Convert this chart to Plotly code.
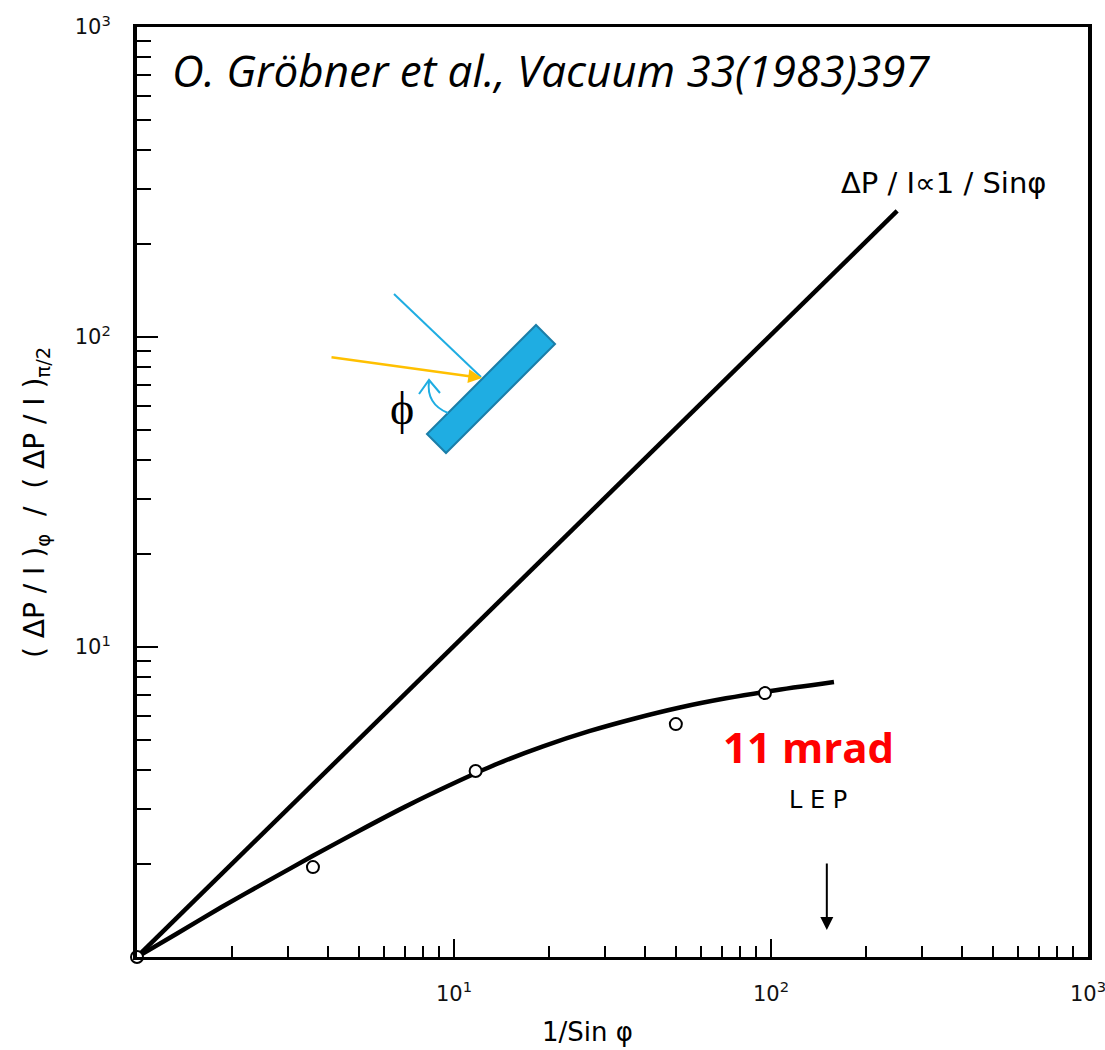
import math
import plotly.graph_objects as go

# ---------------- data ----------------
# straight reference line  dP/I ∝ 1/sin(phi)
line_x = [1, 250]
line_y = [1, 255]

curve_x = [1, 1.33, 1.85, 2.59, 3.59, 5.01, 7.0, 9.79, 13.7, 19.1, 26.7, 37.2, 51.6, 72.1, 101, 158]
curve_y = [1, 1.186, 1.45, 1.76, 2.12, 2.55, 3.05, 3.60, 4.20, 4.78, 5.35, 5.88, 6.38, 6.83, 7.23, 7.71]

# measured points (open circles)
pts_x = [1, 3.59, 11.7, 50.1, 95.7]
pts_y = [1, 1.95, 3.98, 5.64, 7.10]

major_vals = [1, 10, 100, 1000]
x_tick_text = ["", "10<sup>1</sup>", "10<sup>2</sup>", "10<sup>3</sup>"]
y_tick_text = ["", "10<sup>1</sup>", "10<sup>2</sup>", "10<sup>3</sup>"]
minor_vals = [m * 10 ** k for k in range(3) for m in range(2, 10)]

lep_x = 150  # LEP position (11 mrad)

# ---------------- figure ----------------
L, R, T, B = 137, 1088, 27, 957
W, H = 1105, 1050


def px(x):
    return (x - L) / (R - L)


def py(y):
    return (B - y) / (B - T)


fig = go.Figure()
fig.add_trace(go.Scatter(x=line_x, y=line_y, mode="lines",
                         line=dict(color="black", width=4.5),
                         showlegend=False, hoverinfo="skip"))
fig.add_trace(go.Scatter(x=curve_x, y=curve_y, mode="lines",
                         line=dict(color="black", width=4.5, shape="spline", smoothing=0.6),
                         showlegend=False, hoverinfo="skip"))
fig.add_trace(go.Scatter(x=pts_x, y=pts_y, mode="markers", cliponaxis=False,
                         marker=dict(symbol="circle", size=12, color="white",
                                     line=dict(color="black", width=2)),
                         showlegend=False))

tickfont = dict(family="DejaVu Sans", size=21, color="#111")

fig.update_xaxes(type="log", range=[0, 3], showline=True, linecolor="black", linewidth=3,
                 mirror=True, ticks="inside", ticklen=18, tickwidth=2, tickcolor="black",
                 tickvals=major_vals, ticktext=x_tick_text, tickfont=tickfont,
                 ticklabelstandoff=16, ticklabeloverflow="allow", automargin=False,
                 minor=dict(ticks="inside", ticklen=11, tickwidth=1.5, tickcolor="black",
                            tickvals=minor_vals, showgrid=False),
                 showgrid=False, zeroline=False)
fig.update_yaxes(type="log", range=[0, 3], showline=True, linecolor="black", linewidth=4,
                 mirror=True, ticks="inside", ticklen=21, tickwidth=2, tickcolor="black",
                 tickvals=major_vals, ticktext=y_tick_text, tickfont=tickfont,
                 ticklabelstandoff=18, ticklabeloverflow="allow", automargin=False,
                 minor=dict(ticks="inside", ticklen=14, tickwidth=2, tickcolor="black",
                            tickvals=minor_vals, showgrid=False),
                 showgrid=False, zeroline=False)

ann = []
# citation
ann.append(dict(x=px(170), y=py(70), xref="paper", yref="paper", xanchor="left", yanchor="middle",
                text="<i>O. Gröbner et al., Vacuum 33(1983)397</i>", showarrow=False,
                font=dict(family="Open Sans", size=44, color="black")))
# line label
ann.append(dict(x=px(943), y=py(183), xref="paper", yref="paper", xanchor="center", yanchor="middle",
                text="ΔP / I∝1 / Sinφ", showarrow=False,
                font=dict(family="DejaVu Sans", size=29, color="black")))
# 11 mrad
ann.append(dict(x=px(808), y=py(746), xref="paper", yref="paper", xanchor="center", yanchor="middle",
                text="<b>11 mrad</b>", showarrow=False,
                font=dict(family="Open Sans", size=42, color="#FF0000")))
# LEP
ann.append(dict(x=px(818), y=py(800), xref="paper", yref="paper", xanchor="center", yanchor="middle",
                text="L E P", showarrow=False,
                font=dict(family="DejaVu Sans", size=24, color="black")))
# LEP arrow
ann.append(dict(x=math.log10(lep_x), y=py(930), xref="x", yref="paper", ax=0, ay=-68, text="",
                showarrow=True, arrowhead=2, arrowsize=1.3, arrowwidth=2, arrowcolor="black"))
# axis titles
ann.append(dict(x=px(587), y=py(1032), xref="paper", yref="paper", xanchor="center", yanchor="middle",
                text="1/Sin φ", showarrow=False,
                font=dict(family="DejaVu Sans", size=26, color="black")))
ann.append(dict(x=px(36), y=py(503), xref="paper", yref="paper", xanchor="center", yanchor="middle",
                textangle=-90, text="( ΔP / I )<sub>φ</sub>  /  ( ΔP / I )<sub>π/2</sub>", showarrow=False,
                font=dict(family="DejaVu Sans", size=28, color="black")))
# inset illustration
ann.append(dict(x=px(482), y=py(378), xref="paper", yref="paper", ax=330 - 482, ay=357 - 378,
                text="", showarrow=True, arrowhead=2, arrowsize=1.1, arrowwidth=2.5,
                arrowcolor="#FFC000"))
ann.append(dict(x=px(402), y=py(408), xref="paper", yref="paper", xanchor="center", yanchor="middle",
                text="ϕ", showarrow=False,
                font=dict(family="Liberation Serif", size=46, color="black")))


def path(points, close=False):
    s = "M " + " L ".join(f"{px(a):.5f},{py(b):.5f}" for a, b in points)
    return s + (" Z" if close else "")


shapes = []
shapes.append(dict(type="path", xref="paper", yref="paper",
                   path=path([(427, 434), (446, 453), (555, 344), (536, 325)], close=True),
                   fillcolor="#1FADE2", line=dict(color="#1B7EA8", width=2)))
shapes.append(dict(type="path", xref="paper", yref="paper",
                   path=path([(394, 294), (481, 377)]),
                   line=dict(color="#1FADE2", width=2)))
shapes.append(dict(type="path", xref="paper", yref="paper",
                   path=(f"M {px(448):.5f},{py(413):.5f} Q {px(426):.5f},{py(404):.5f} "
                         f"{px(429):.5f},{py(381):.5f}"),
                   line=dict(color="#1FADE2", width=2)))
shapes.append(dict(type="path", xref="paper", yref="paper",
                   path=path([(419, 394), (429, 380), (440, 393)]),
                   line=dict(color="#1FADE2", width=2)))

fig.update_layout(width=W, height=H, margin=dict(l=L, r=W - R, t=T, b=H - B),
                  paper_bgcolor="white", plot_bgcolor="white",
                  annotations=ann, shapes=shapes, showlegend=False)

fig.write_html("out.html")
